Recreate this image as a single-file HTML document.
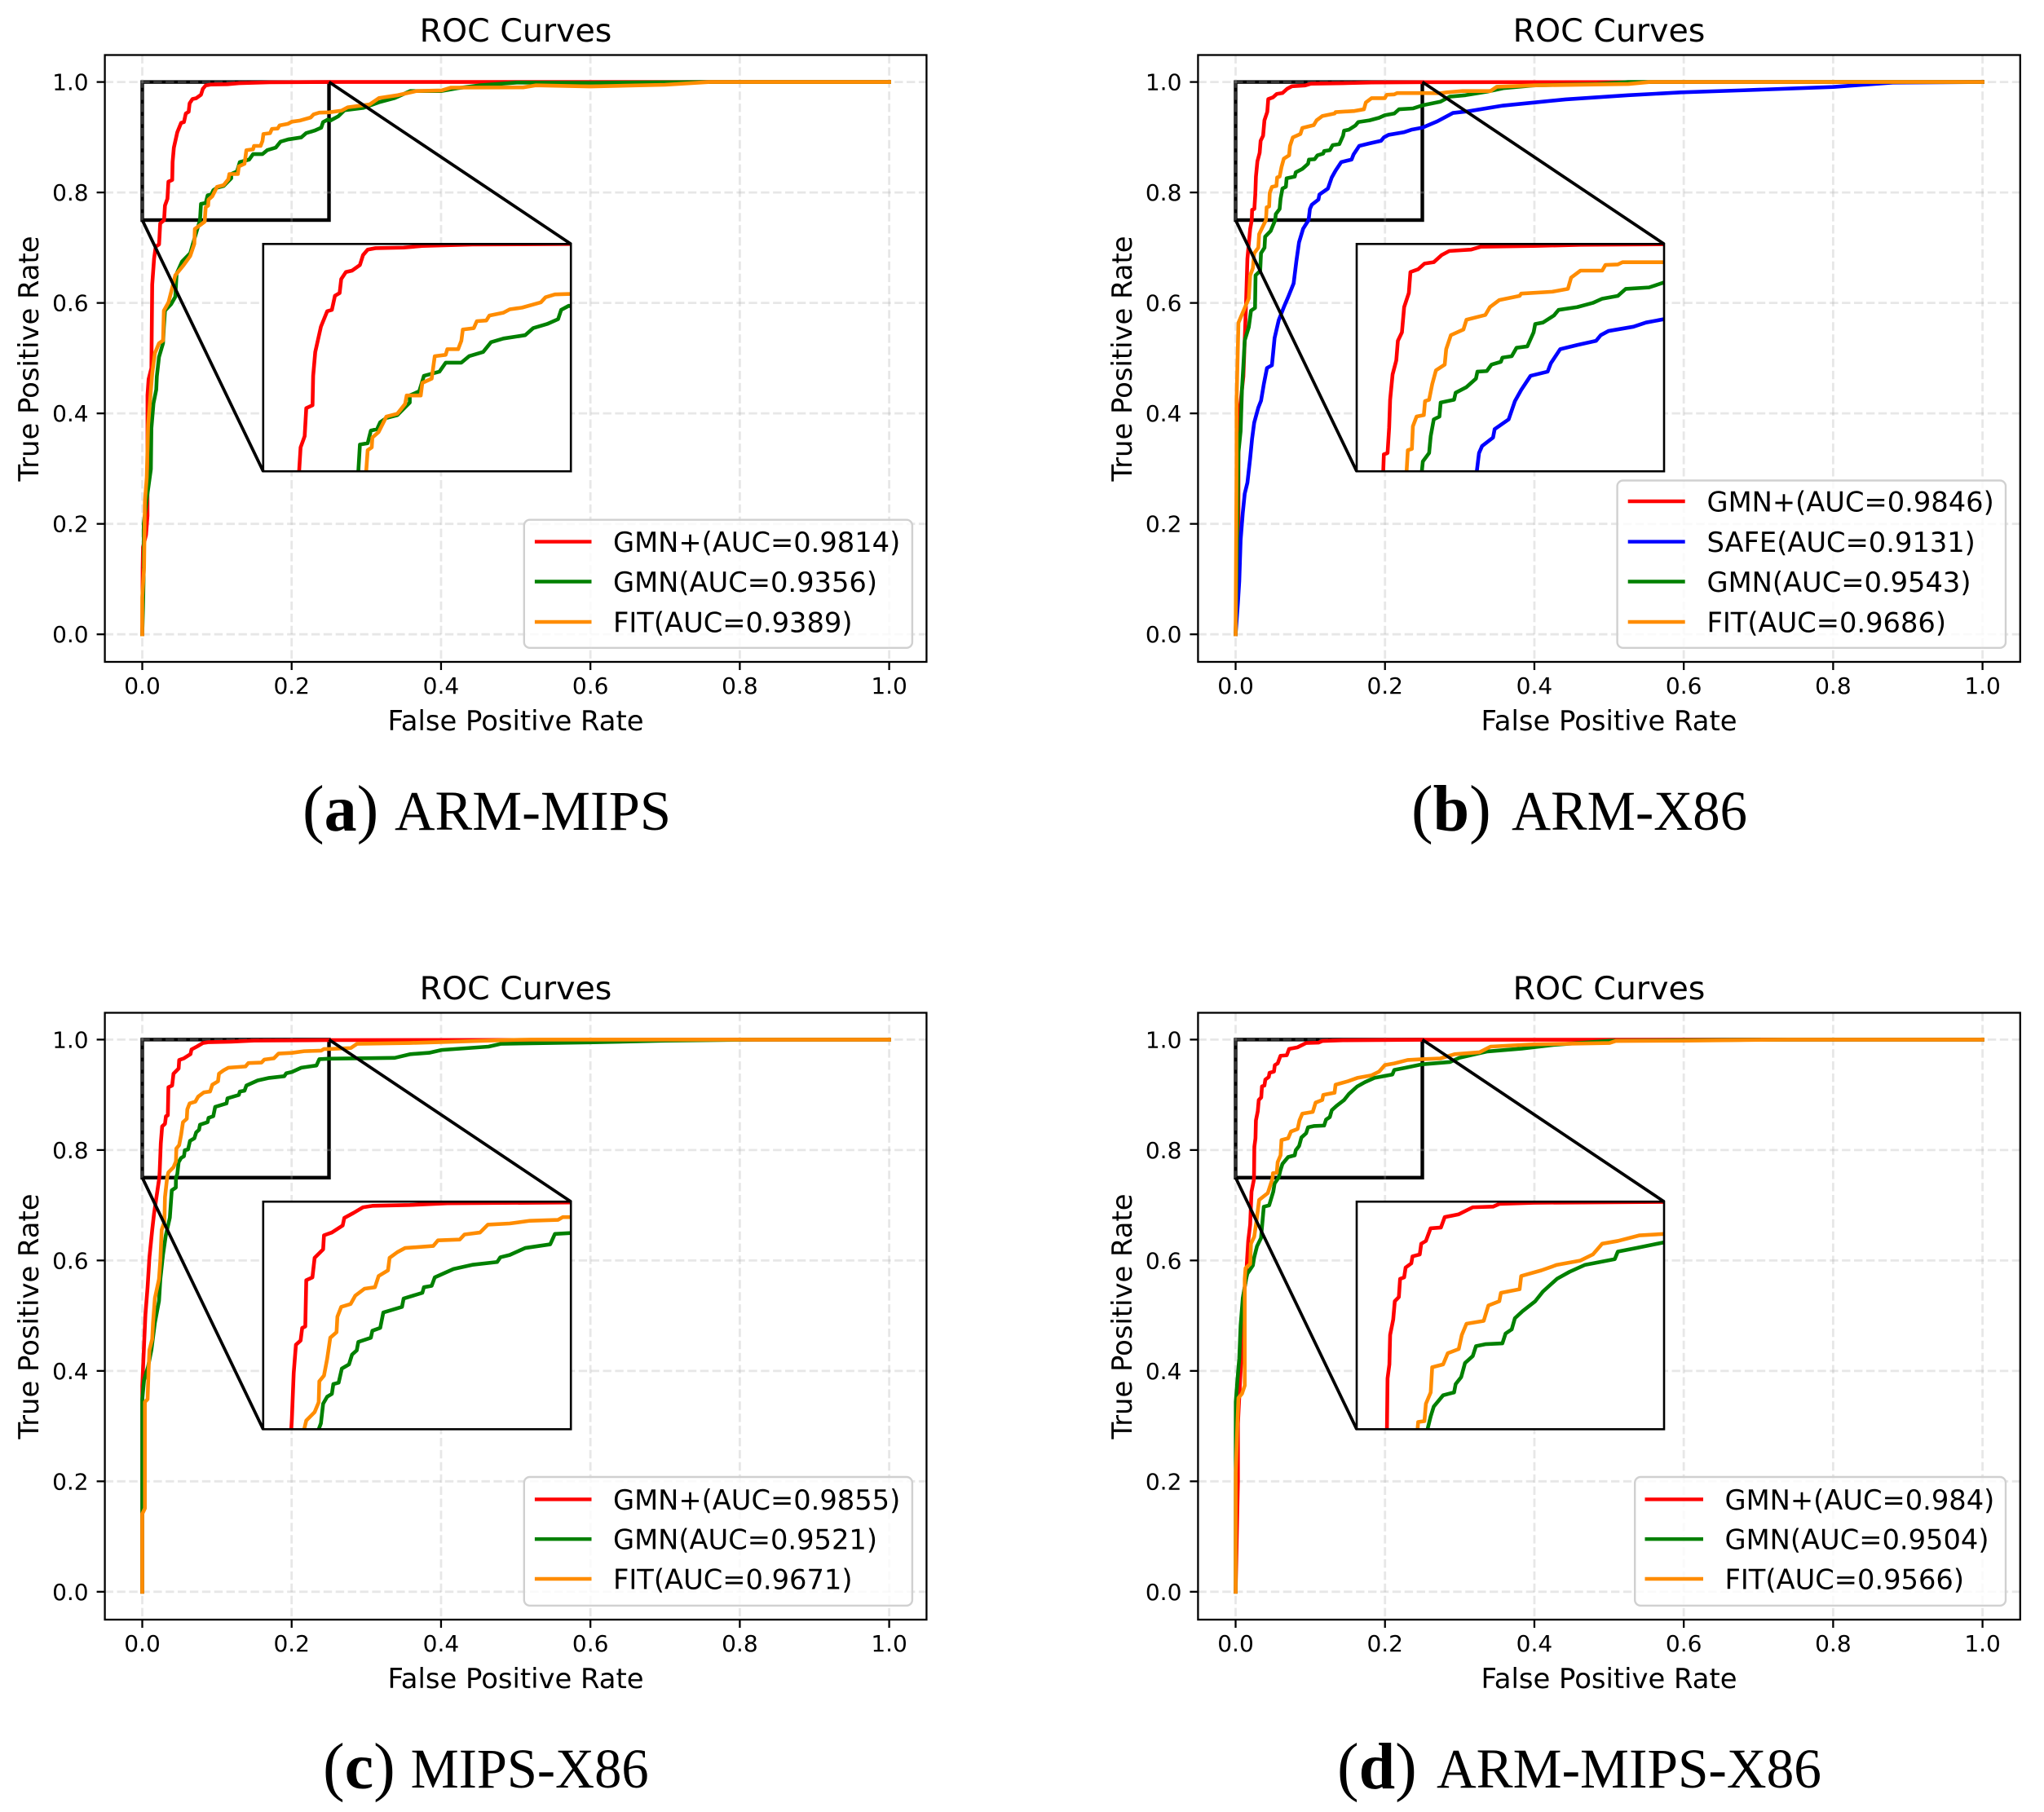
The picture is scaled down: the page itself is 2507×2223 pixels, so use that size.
<!DOCTYPE html>
<html lang="en">
<head>
<meta charset="utf-8">
<title>ROC Curves</title>
<style>
html,body{margin:0;padding:0;background:#fff;width:2507px;height:2223px;overflow:hidden;}
svg{display:block;position:absolute;left:0;top:0;}
text{font-family:"DejaVu Sans",sans-serif;fill:#000;}
.title{font-size:39.5px;text-anchor:middle;}
.axis-label{font-size:33.8px;text-anchor:middle;}
.tick-label{font-size:28px;}
.legend-text{font-size:33.7px;}
.caption{font-family:"Liberation Serif",serif;font-size:69px;}
.caption-tag{font-family:"Liberation Serif",serif;font-size:80px;}
.caption-tag tspan{font-weight:bold;}
.legend-box{fill:#fff;fill-opacity:.8;stroke:#d0d0d0;stroke-width:2.4;}
.legend-line{stroke-width:4.4;}
</style>
</head>
<body>
<svg xmlns="http://www.w3.org/2000/svg" width="2507" height="2223" viewBox="0 0 2507 2223">
<rect x="0" y="0" width="2507" height="2223" fill="#fff"/>

<g>
  <g id="marks-a"></g>
  <text class="title" x="632.5" y="51">ROC Curves</text>
  <text class="axis-label" x="632.5" y="896">False Positive Rate</text>
  <text class="axis-label" transform="translate(47 440) rotate(-90)">True Positive Rate</text>
  <g>
    <rect class="legend-box" x="642.8" y="637.7" width="476.1" height="157.1" rx="7"/>
    <line class="legend-line" x1="655.9" x2="725.5" y1="664.6" y2="664.6" stroke="#ff0000"/>
    <text class="legend-text" x="752" y="677">GMN+(AUC=0.9814)</text>
    <line class="legend-line" x1="655.9" x2="725.5" y1="713.5" y2="713.5" stroke="#008000"/>
    <text class="legend-text" x="752" y="726">GMN(AUC=0.9356)</text>
    <line class="legend-line" x1="655.9" x2="725.5" y1="763" y2="763" stroke="#ff8c00"/>
    <text class="legend-text" x="752" y="775.5">FIT(AUC=0.9389)</text>
  </g>
  <text class="caption-tag" x="371" y="1019">(<tspan>a</tspan>)</text>
  <text class="caption" x="484" y="1018" textLength="339" lengthAdjust="spacingAndGlyphs">ARM-MIPS</text>
</g>

<g>
  <g id="marks-b"></g>
  <text class="title" x="1973.5" y="51">ROC Curves</text>
  <text class="axis-label" x="1973.5" y="896">False Positive Rate</text>
  <text class="axis-label" transform="translate(1388 440) rotate(-90)">True Positive Rate</text>
  <g>
    <rect class="legend-box" x="1983.6" y="589.5" width="476.4" height="205.3" rx="7"/>
    <line class="legend-line" x1="1996.7" x2="2066.7" y1="615" y2="615" stroke="#ff0000"/>
    <text class="legend-text" x="2093.5" y="627.5">GMN+(AUC=0.9846)</text>
    <line class="legend-line" x1="1996.7" x2="2066.7" y1="664.6" y2="664.6" stroke="#0000ff"/>
    <text class="legend-text" x="2093.5" y="677">SAFE(AUC=0.9131)</text>
    <line class="legend-line" x1="1996.7" x2="2066.7" y1="713.5" y2="713.5" stroke="#008000"/>
    <text class="legend-text" x="2093.5" y="726">GMN(AUC=0.9543)</text>
    <line class="legend-line" x1="1996.7" x2="2066.7" y1="763" y2="763" stroke="#ff8c00"/>
    <text class="legend-text" x="2093.5" y="775.5">FIT(AUC=0.9686)</text>
  </g>
  <text class="caption-tag" x="1731" y="1019">(<tspan>b</tspan>)</text>
  <text class="caption" x="1854" y="1018" textLength="289" lengthAdjust="spacingAndGlyphs">ARM-X86</text>
</g>

<g>
  <g id="marks-c"></g>
  <text class="title" x="632.5" y="1226">ROC Curves</text>
  <text class="axis-label" x="632.5" y="2071">False Positive Rate</text>
  <text class="axis-label" transform="translate(47 1615) rotate(-90)">True Positive Rate</text>
  <g>
    <rect class="legend-box" x="642.8" y="1812" width="476.1" height="157.8" rx="7"/>
    <line class="legend-line" x1="655.9" x2="725.5" y1="1839.4" y2="1839.4" stroke="#ff0000"/>
    <text class="legend-text" x="752" y="1851.8">GMN+(AUC=0.9855)</text>
    <line class="legend-line" x1="655.9" x2="725.5" y1="1888.2" y2="1888.2" stroke="#008000"/>
    <text class="legend-text" x="752" y="1900.6">GMN(AUC=0.9521)</text>
    <line class="legend-line" x1="655.9" x2="725.5" y1="1937" y2="1937" stroke="#ff8c00"/>
    <text class="legend-text" x="752" y="1949.4">FIT(AUC=0.9671)</text>
  </g>
  <text class="caption-tag" x="396" y="2194">(<tspan>c</tspan>)</text>
  <text class="caption" x="503.6" y="2193" textLength="292" lengthAdjust="spacingAndGlyphs">MIPS-X86</text>
</g>

<g>
  <g id="marks-d"></g>
  <text class="title" x="1973.5" y="1226">ROC Curves</text>
  <text class="axis-label" x="1973.5" y="2071">False Positive Rate</text>
  <text class="axis-label" transform="translate(1388 1615) rotate(-90)">True Positive Rate</text>
  <g>
    <rect class="legend-box" x="2005.2" y="1812" width="454.8" height="157.8" rx="7"/>
    <line class="legend-line" x1="2017.5" x2="2089" y1="1839.4" y2="1839.4" stroke="#ff0000"/>
    <text class="legend-text" x="2115.5" y="1851.8">GMN+(AUC=0.984)</text>
    <line class="legend-line" x1="2017.5" x2="2089" y1="1888.2" y2="1888.2" stroke="#008000"/>
    <text class="legend-text" x="2115.5" y="1900.6">GMN(AUC=0.9504)</text>
    <line class="legend-line" x1="2017.5" x2="2089" y1="1937" y2="1937" stroke="#ff8c00"/>
    <text class="legend-text" x="2115.5" y="1949.4">FIT(AUC=0.9566)</text>
  </g>
  <text class="caption-tag" x="1640" y="2194">(<tspan>d</tspan>)</text>
  <text class="caption" x="1762" y="2193" textLength="472" lengthAdjust="spacingAndGlyphs">ARM-MIPS-X86</text>
</g>
</svg>

<script>
// Tick labels
const xTickLabels = ['0.0','0.2','0.4','0.6','0.8','1.0'];
const yTickLabels = ['0.0','0.2','0.4','0.6','0.8','1.0'];
const zoomWindow = [0, 0.25, 0.75, 1.0];

// ---- (a) ARM-MIPS : [false positive rate, true positive rate]
const armMipsGmnPlus = [[0,0],[.0005,.12],[.001,.158],[.005,.18],[.007,.215],[.007,.433],[.0085,.462],[.0122,.482],[.0133,.633],[.0158,.68],[.018,.702],[.0225,.706],[.024,.744],[.0292,.75],[.0304,.7763],[.0337,.7886],[.035,.8195],[.0401,.8226],[.0406,.855],[.0423,.8812],[.0469,.909],[.052,.926],[.0558,.9275],[.0583,.943],[.0621,.946],[.0634,.9614],[.0672,.9691],[.0722,.9707],[.0786,.9769],[.0811,.9877],[.0849,.9938],[.0913,.9954],[.1141,.996],[.1293,.9978],[.17,.9994],[.25,1],[1,1]];
const armMipsGmn = [[0,0],[.001,.0495],[.002,.116],[.002,.2],[.006,.245],[.0115,.299],[.0122,.373],[.015,.418],[.0187,.443],[.0195,.467],[.0224,.502],[.0278,.527],[.0289,.556],[.0304,.586],[.0387,.598],[.0442,.611],[.046,.653],[.0533,.675],[.0642,.69],[.0678,.707],[.0733,.732],[.0773,.75],[.0786,.7794],[.0849,.7809],[.0875,.7948],[.0925,.7963],[.0951,.804],[.1001,.8087],[.109,.8118],[.1191,.8256],[.1191,.8334],[.1268,.838],[.1306,.855],[.1432,.8596],[.1483,.8695],[.161,.8695],[.1673,.8766],[.1787,.8812],[.1851,.892],[.1952,.896],[.2129,.8997],[.2193,.9074],[.2307,.912],[.2396,.9173],[.2421,.9275],[.2484,.9321],[.252,.9303],[.2625,.938],[.2709,.949],[.296,.9532],[.317,.9634],[.338,.971],[.359,.9837],[.4008,.9837],[.4218,.9888],[.4512,.9939],[.5015,.999],[.6,.9985],[.76,1],[1,1]];
const armMipsFit = [[0,0],[0,.0668],[.0024,.121],[.0035,.24],[.006,.284],[.0078,.378],[.0107,.428],[.0133,.472],[.0169,.509],[.0224,.527],[.0278,.532],[.0289,.586],[.0351,.601],[.0387,.62],[.0442,.65],[.0551,.668],[.0642,.685],[.0697,.707],[.0704,.734],[.0835,.747],[.0837,.75],[.0849,.7732],[.0882,.7763],[.0887,.7871],[.0938,.7932],[.1001,.8102],[.109,.8133],[.1153,.8241],[.1166,.8334],[.128,.8334],[.1293,.8472],[.1369,.8519],[.1394,.8766],[.1483,.8781],[.1496,.8843],[.1584,.8843],[.161,.8935],[.1622,.9059],[.1711,.9074],[.1736,.9151],[.1813,.9158],[.1838,.9213],[.1952,.9244],[.2003,.9281],[.2104,.93],[.2256,.9358],[.2294,.9414],[.237,.9445],[.25,.9451],[.2667,.9481],[.2751,.9542],[.3044,.9593],[.317,.971],[.3421,.9761],[.3673,.9837],[.4008,.9847],[.4134,.9898],[.5099,.9903],[.5266,.9939],[.6,.992],[.7,.995],[.76,1],[1,1]];

// ---- (b) ARM-X86
const armX86GmnPlus = [[0,0],[.0038,.2],[.0038,.368],[.0049,.398],[.0104,.467],[.0122,.532],[.014,.601],[.0158,.68],[.0195,.734],[.0216,.75],[.0221,.7686],[.0251,.7701],[.0264,.7979],[.0272,.8287],[.0292,.8565],[.0322,.8719],[.0335,.8935],[.0368,.9028],[.0386,.9306],[.0424,.946],[.0437,.9691],[.05,.9722],[.0551,.9784],[.0627,.98],[.069,.9877],[.0754,.9923],[.0931,.9938],[.1008,.9969],[.1439,.9978],[.182,.9991],[.25,.9997],[1,1]];
const armX86Safe = [[0,0],[.0031,.057],[.0049,.0964],[.0067,.1706],[.0096,.22],[.0122,.2547],[.0158,.2745],[.0195,.319],[.022,.3536],[.0249,.3833],[.0304,.4105],[.034,.4228],[.0377,.4525],[.042,.4822],[.0486,.4871],[.0522,.5366],[.0577,.5687],[.0649,.5935],[.0704,.6108],[.0777,.6355],[.0813,.6751],[.0849,.7097],[.0904,.7344],[.0977,.75],[.0995,.7701],[.102,.7778],[.1109,.7871],[.1122,.7963],[.1236,.8071],[.1287,.8272],[.1338,.8395],[.1414,.855],[.1553,.8596],[.1579,.8688],[.1655,.8843],[.1794,.8889],[.1947,.8935],[.1985,.8997],[.2048,.9043],[.2251,.909],[.2353,.9136],[.25,.9173],[.27,.9288],[.291,.944],[.312,.9471],[.3581,.9573],[.4419,.9685],[.5258,.9761],[.5962,.9812],[.68,.985],[.8,.991],[.88,.999],[1,1]];
const armX86Gmn = [[0,0],[.0024,.2],[.0038,.329],[.0067,.368],[.0085,.443],[.0104,.487],[.0122,.532],[.0176,.556],[.0206,.586],[.026,.591],[.0267,.65],[.0329,.658],[.034,.69],[.0387,.7],[.0395,.72],[.0468,.73],[.053,.75],[.0538,.7608],[.0589,.7701],[.0602,.7886],[.0627,.8071],[.0673,.8102],[.0683,.8256],[.0792,.8287],[.0805,.8364],[.0893,.8426],[.097,.8519],[.0982,.8596],[.1058,.8602],[.1096,.8673],[.1173,.8704],[.1185,.875],[.1261,.8766],[.13,.8858],[.1388,.8874],[.1439,.9028],[.1452,.912],[.1515,.9136],[.1604,.9213],[.1642,.9275],[.1794,.9306],[.1921,.9352],[.1997,.9398],[.2124,.9429],[.2188,.9506],[.2378,.9522],[.25,.9577],[.2742,.9644],[.2868,.9735],[.3078,.9761],[.3371,.9827],[.3581,.9888],[.4,.9939],[.4838,.9964],[.5258,1],[1,1]];
const armX86Fit = [[0,0],[.0013,.319],[.0013,.423],[.0024,.487],[.0038,.564],[.0122,.591],[.0176,.608],[.0195,.65],[.0231,.663],[.0249,.69],[.0304,.7],[.0315,.7245],[.0406,.75],[.0416,.7732],[.0449,.7747],[.0457,.7994],[.0487,.8102],[.0546,.8118],[.0556,.8272],[.0589,.8287],[.0614,.8457],[.0645,.8611],[.0716,.8673],[.0728,.8843],[.0766,.8997],[.0868,.9059],[.0893,.9167],[.1046,.9219],[.1084,.9306],[.116,.9383],[.1325,.9429],[.1338,.9454],[.1591,.9475],[.1718,.9506],[.1744,.963],[.182,.9707],[.1997,.9707],[.2023,.9769],[.2124,.9775],[.2162,.9799],[.25,.9799],[.2742,.9797],[.2826,.9812],[.3036,.9837],[.3413,.9837],[.3497,.9914],[.4,.9939],[.5258,.9964],[.555,1],[1,1]];

// ---- (c) MIPS-X86
const mipsX86GmnPlus = [[0,0],[0,.373],[.0024,.4476],[.0042,.502],[.0071,.5514],[.0096,.6058],[.0133,.6553],[.0158,.685],[.0206,.7295],[.0228,.75],[.0233,.7611],[.0248,.8119],[.0266,.8428],[.0304,.8474],[.0317,.8613],[.0342,.8628],[.035,.9137],[.04,.9168],[.0418,.9383],[.0487,.9476],[.0494,.963],[.0558,.9661],[.0646,.9738],[.0659,.9821],[.0735,.9877],[.0811,.9938],[.0887,.9954],[.1191,.9963],[.1496,.9982],[.25,.9991],[1,1]];
const mipsX86Gmn = [[0,0],[0,.15],[0,.3487],[.0024,.3833],[.0078,.408],[.0122,.4377],[.0169,.4871],[.0224,.5267],[.0242,.5663],[.0278,.6108],[.0315,.6454],[.0369,.6775],[.0395,.727],[.0449,.732],[.0451,.75],[.0469,.7564],[.0487,.778],[.052,.7857],[.0558,.7888],[.057,.7996],[.0613,.8011],[.0639,.8166],[.0697,.8212],[.0722,.832],[.076,.8366],[.0773,.8459],[.0875,.8505],[.0887,.8582],[.0951,.8613],[.0976,.8782],[.1128,.8844],[.1141,.8936],[.1293,.8998],[.1306,.906],[.1369,.9075],[.1394,.9168],[.1546,.926],[.1698,.9306],[.1901,.9337],[.1927,.9389],[.2003,.9414],[.2129,.9491],[.2332,.9531],[.237,.9645],[.25,.9655],[.338,.9669],[.3589,.9736],[.3841,.9761],[.4008,.9812],[.4637,.9873],[.4805,.9924],[.5971,.9949],[.7,.998],[.82,1],[1,1]];
const mipsX86Fit = [[0,0],[0,.141],[.0035,.151],[.0035,.3437],[.0071,.3487],[.0085,.403],[.0096,.4377],[.0133,.4575],[.0144,.4871],[.0169,.5317],[.0224,.5663],[.0242,.6009],[.026,.6553],[.0296,.6701],[.0304,.7147],[.0333,.75],[.035,.7595],[.0418,.7688],[.0451,.7796],[.0456,.8027],[.0494,.8089],[.052,.8274],[.0545,.8505],[.0596,.8566],[.0603,.8736],[.0634,.8844],[.071,.8875],[.0748,.8967],[.0824,.9044],[.0908,.906],[.0938,.9183],[.1014,.9245],[.1027,.9383],[.109,.9445],[.1153,.9491],[.1382,.9513],[.142,.9575],[.1597,.9584],[.1635,.9639],[.1762,.9661],[.1825,.9747],[.2003,.976],[.2167,.979],[.2396,.98],[.2434,.983],[.25,.983],[.2792,.9847],[.2876,.9924],[.3589,.9939],[.4847,.999],[.52,1],[1,1]];

// ---- (d) ARM-MIPS-X86
const allGmnPlus = [[0,0],[.002,.126],[.0031,.2],[.0031,.304],[.006,.383],[.0075,.418],[.0104,.5366],[.014,.5663],[.0151,.5959],[.0169,.6355],[.0195,.6652],[.0213,.7245],[.0242,.7443],[.0246,.75],[.0251,.8058],[.0266,.8212],[.0272,.8536],[.0297,.8705],[.031,.8906],[.0343,.8952],[.0353,.9152],[.0386,.9168],[.0398,.9276],[.0444,.9322],[.0454,.9399],[.0513,.942],[.0525,.9538],[.0563,.9568],[.0601,.9707],[.0685,.9716],[.0716,.983],[.083,.9861],[.0944,.9938],[.1109,.9945],[.116,.9975],[.1439,.9988],[.25,.9997],[1,1]];
const allGmn = [[0,0],[.0002,.3437],[.0024,.3833],[.0049,.4228],[.0067,.4822],[.0096,.5317],[.014,.5663],[.0158,.5762],[.0231,.591],[.0249,.6058],[.0286,.6256],[.034,.6405],[.0377,.6973],[.0449,.6998],[.0504,.7245],[.0522,.7394],[.0576,.75],[.0602,.7642],[.0627,.7749],[.0703,.7873],[.0792,.7904],[.0805,.7996],[.085,.8073],[.0881,.8227],[.0944,.8304],[.097,.8412],[.1046,.8434],[.1185,.8443],[.1211,.8551],[.1261,.8597],[.1287,.872],[.135,.8798],[.1452,.8906],[.1515,.9013],[.1629,.9152],[.1731,.9229],[.1858,.9306],[.2099,.9368],[.2124,.9451],[.2277,.9491],[.25,.9553],[.2868,.9593],[.2994,.9669],[.3371,.9786],[.3832,.9837],[.4252,.9903],[.5006,.998],[.62,.999],[.74,1],[1,1]];
const allFit = [[0,0],[.0002,.2151],[.0024,.3042],[.0038,.3511],[.0085,.3586],[.0122,.3734],[.0122,.5663],[.0133,.5861],[.0195,.5935],[.0206,.6306],[.0249,.6429],[.0278,.6701],[.0315,.7097],[.0431,.7221],[.0486,.745],[.0495,.75],[.05,.758],[.0551,.7589],[.0563,.778],[.0602,.7904],[.0614,.8181],[.0703,.8212],[.0741,.8335],[.083,.8381],[.0855,.8536],[.0893,.8659],[.1033,.869],[.1071,.8859],[.116,.8906],[.1173,.8998],[.1325,.9038],[.1338,.9183],[.1502,.9245],[.1629,.9306],[.182,.9353],[.1921,.942],[.1997,.9538],[.2124,.9568],[.2302,.963],[.25,.9645],[.2742,.9659],[.2931,.9736],[.3266,.9771],[.3413,.9873],[.4,.9914],[.5006,.9939],[.509,.9975],[.6,.998],[.74,1],[1,1]];

const seriesStyle = {
  'gmn-plus': '#ff0000',
  'safe': '#0000ff',
  'gmn': '#008000',
  'fit': '#ff8c00'
};

const panels = [
  {id:'a', left:128.6, right:1136.4, top:67.5, bottom:812, x0:174.5, x1:1090.6, y1:100.6, y0:778.2,
   inL:322.8, inR:700.2, inT:299.3, inB:578.2,
   series:[['gmn-plus',armMipsGmnPlus],['gmn',armMipsGmn],['fit',armMipsFit]]},
  {id:'b', left:1469.4, right:2477.8, top:67.5, bottom:812, x0:1515.5, x1:2431.6, y1:100.6, y0:778.2,
   inL:1664, inR:2041, inT:299.3, inB:578.2,
   series:[['gmn-plus',armX86GmnPlus],['safe',armX86Safe],['gmn',armX86Gmn],['fit',armX86Fit]]},
  {id:'c', left:128.6, right:1136.4, top:1242.5, bottom:1987, x0:174.5, x1:1090.6, y1:1275.4, y0:1952.8,
   inL:322.8, inR:700.2, inT:1474.2, inB:1753.4,
   series:[['gmn-plus',mipsX86GmnPlus],['gmn',mipsX86Gmn],['fit',mipsX86Fit]]},
  {id:'d', left:1469.4, right:2477.8, top:1242.5, bottom:1987, x0:1515.5, x1:2431.6, y1:1275.4, y0:1952.8,
   inL:1664, inR:2041, inT:1474.2, inB:1753.4,
   series:[['gmn-plus',allGmnPlus],['gmn',allGmn],['fit',allFit]]}
];

const NS = 'http://www.w3.org/2000/svg';
function make(tag, attrs, parent) {
  const el = document.createElementNS(NS, tag);
  for (const k in attrs) el.setAttribute(k, attrs[k]);
  parent.appendChild(el);
  return el;
}
function linear(d0, d1, r0, r1) {
  return function (v) { return r0 + (v - d0) / (d1 - d0) * (r1 - r0); };
}
function pathFrom(points, sx, sy) {
  return points.map(function (p, i) {
    return (i ? 'L' : 'M') + sx(p[0]).toFixed(2) + ' ' + sy(p[1]).toFixed(2);
  }).join('');
}

panels.forEach(function (p) {
  const root = document.getElementById('marks-' + p.id);
  const sx = linear(0, 1, p.x0, p.x1);
  const sy = linear(0, 1, p.y0, p.y1);
  const ix = linear(zoomWindow[0], zoomWindow[1], p.inL, p.inR);
  const iy = linear(zoomWindow[2], zoomWindow[3], p.inB, p.inT);

  // zoom window rectangle (under the grid and the curves)
  const zoomRect = make('rect', {
    x: sx(zoomWindow[0]), y: sy(zoomWindow[3]),
    width: sx(zoomWindow[1]) - sx(zoomWindow[0]), height: sy(zoomWindow[2]) - sy(zoomWindow[3]),
    fill: 'none', stroke: '#000', 'stroke-width': 4.4
  }, root);
  
  

  // grid
  xTickLabels.forEach(function (label) {
    const v = parseFloat(label);
    const g = make('line', {
      x1: sx(v), x2: sx(v), y1: p.top, y2: p.bottom,
      stroke: '#b0b0b0', 'stroke-opacity': .3, 'stroke-width': 2.8, 'stroke-dasharray': '10.4 4.5'
    }, root);
    
    
  });
  yTickLabels.forEach(function (label) {
    const v = parseFloat(label);
    const g = make('line', {
      x1: p.left, x2: p.right, y1: sy(v), y2: sy(v),
      stroke: '#b0b0b0', 'stroke-opacity': .3, 'stroke-width': 2.8, 'stroke-dasharray': '10.4 4.5'
    }, root);
    
    
  });

  // main curves
  p.series.forEach(function (s) {
    const c = make('path', {
      d: pathFrom(s[1], sx, sy), fill: 'none', stroke: seriesStyle[s[0]],
      'stroke-width': 4.6, 'stroke-linejoin': 'round', 'stroke-linecap': 'square'
    }, root);
    
    
  });

  // inset
  const clip = make('clipPath', {id: 'inset-clip-' + p.id}, root);
  
  
  make('rect', {x: p.inL, y: p.inT, width: p.inR - p.inL, height: p.inB - p.inT}, clip);

  const inBg = make('rect', {x: p.inL, y: p.inT, width: p.inR - p.inL, height: p.inB - p.inT, fill: '#fff'}, root);
  
  

  p.series.forEach(function (s) {
    const c = make('path', {
      d: pathFrom(s[1], ix, iy), fill: 'none', stroke: seriesStyle[s[0]],
      'stroke-width': 4.6, 'stroke-linejoin': 'round', 'clip-path': 'url(#inset-clip-' + p.id + ')'
    }, root);
    
    
  });

  const inFrame = make('rect', {
    x: p.inL, y: p.inT, width: p.inR - p.inL, height: p.inB - p.inT,
    fill: 'none', stroke: '#000', 'stroke-width': 2.6
  }, root);
  
  

  // connectors
  const connA = make('line', {
    x1: sx(zoomWindow[0]), y1: sy(zoomWindow[2]), x2: p.inL, y2: p.inB, stroke: '#000', 'stroke-width': 3.8
  }, root);
  
  
  const connB = make('line', {
    x1: sx(zoomWindow[1]), y1: sy(zoomWindow[3]), x2: p.inR, y2: p.inT, stroke: '#000', 'stroke-width': 3.8
  }, root);
  
  

  // axes frame
  const frame = make('rect', {
    x: p.left, y: p.top, width: p.right - p.left, height: p.bottom - p.top,
    fill: 'none', stroke: '#000', 'stroke-width': 2.3
  }, root);
  
  

  // ticks
  xTickLabels.forEach(function (label) {
    const v = parseFloat(label);
    const t = make('line', {x1: sx(v), x2: sx(v), y1: p.bottom, y2: p.bottom + 10, stroke: '#000', 'stroke-width': 2.3}, root);
    
    
    const tl = make('text', {class: 'tick-label', x: sx(v), y: p.bottom + 39, 'text-anchor': 'middle'}, root);
    
    
    tl.textContent = label;
  });
  yTickLabels.forEach(function (label) {
    const v = parseFloat(label);
    const t = make('line', {x1: p.left - 10, x2: p.left, y1: sy(v), y2: sy(v), stroke: '#000', 'stroke-width': 2.3}, root);
    
    
    const tl = make('text', {class: 'tick-label', x: p.left - 20, y: sy(v) + 10, 'text-anchor': 'end'}, root);
    
    
    tl.textContent = label;
  });
});
</script>
</body>
</html>
